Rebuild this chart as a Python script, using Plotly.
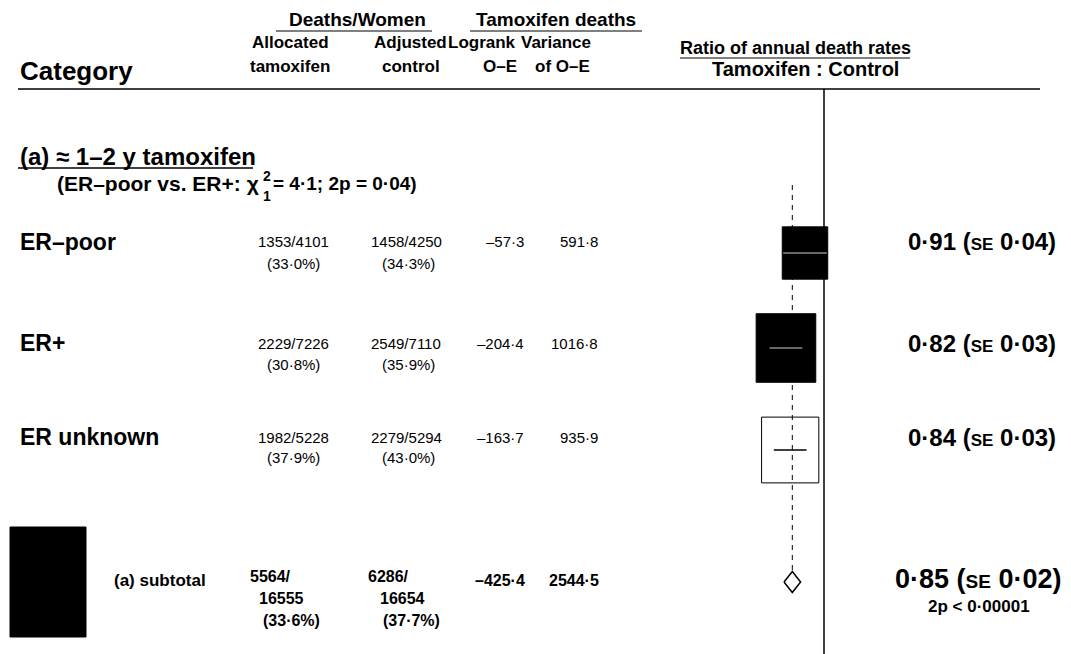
import math
import plotly.graph_objects as go

# ---------------- data ----------------
categories = ["ER–poor", "ER+", "ER unknown"]
tam_deaths = [1353, 2229, 1982]
tam_women = [4101, 7226, 5228]
tam_pct = ["33·0", "30·8", "37·9"]
ctl_deaths = [1458, 2549, 2279]
ctl_women = [4250, 7110, 5294]
ctl_pct = ["34·3", "35·9", "43·0"]
o_minus_e = [-57.3, -204.4, -163.7]
variance = [591.8, 1016.8, 935.9]
ratio = [0.91, 0.82, 0.84]
se = [0.04, 0.03, 0.03]
open_box = [False, False, True]

sub_label = "(a) subtotal"
sub_tam = [5564, 16555, "33·6"]
sub_ctl = [6286, 16654, "37·7"]
sub_o_minus_e = -425.4
sub_variance = 2544.5
sub_ratio = 0.85
sub_se = 0.02
sub_p = "2p < 0·00001"

section_title = "(a) ≈ 1–2 y tamoxifen"
het_left = "(ER–poor vs. ER+: χ"
het_sup, het_sub = "2", "1"
het_right = "= 4·1; 2p = 0·04)"

# ---------------- layout constants ----------------
W, H = 1071, 654
FONT = "Liberation Sans, Arial, Helvetica, sans-serif"
X_ONE = 824.0          # pixel position of ratio 1.0
PPU = 211.3            # pixels per ratio unit
ROW_CENTER = [253, 348, 450]   # box centres
ROW_TEXT = [242, 343, 437]     # first text line of each row
SUB_CENTER = 582
BOX_KX, BOX_KY = 0.935, 1.075   # half-size per sqrt(variance)


def fmt(v):
    s = f"{abs(v):.1f}".replace(".", "·")
    return ("–" + s) if v < 0 else s


def fr(v):
    return f"{v:.2f}".replace(".", "·")


def px(x):
    return x / W


def py(y):
    return 1 - y / H


fig = go.Figure()
ann = []
shapes = []


def text(x, y, s, size, bold=False, xanchor="left", yanchor="middle", family=FONT):
    ann.append(dict(x=px(x), y=py(y), xref="paper", yref="paper", text=(f"<b>{s}</b>" if bold else s),
                    showarrow=False, xanchor=xanchor, yanchor=yanchor,
                    font=dict(family=family, size=size, color="black")))


def hline(x0, x1, y, w=1.2):
    shapes.append(dict(type="line", xref="paper", yref="paper", x0=px(x0), x1=px(x1), y0=py(y), y1=py(y),
                       line=dict(color="black", width=w)))


# header
text(18, 71, "Category", 26, True)
text(357, 20, "Deaths/Women", 19, True, "center")
hline(276, 432, 31)
text(556, 20, "Tamoxifen deaths", 19, True, "center")
hline(470, 642, 31)
text(290, 42, "Allocated", 17, True, "center")
text(290, 66, "tamoxifen", 17, True, "center")
text(410, 42, "Adjusted", 17, True, "center")
text(411, 66, "control", 17, True, "center")
text(482, 42, "Logrank", 17, True, "center")
text(500, 66, "O–E", 17, True, "center")
text(556, 42, "Variance", 17, True, "center")
text(562, 66, "of O–E", 17, True, "center")
text(795, 48, "Ratio of annual death rates", 18, True, "center")
hline(680, 910, 58)
text(805, 69, "Tamoxifen : Control", 20, True, "center")
hline(18, 1040, 89, 1.6)

# section
text(18, 156, section_title, 24, True)
hline(18, 253, 168, 1.4)
text(55, 183, het_left, 21, True)
text(261, 176, het_sup, 14, True)
text(261, 196, het_sub, 14, True)
text(271, 183, het_right, 19, True)

# rows
for i, cat in enumerate(categories):
    ytop = ROW_TEXT[i]
    ybot = ytop + 21
    text(18, ytop, cat, 23, True)
    text(293, ytop, f"{tam_deaths[i]}/{tam_women[i]}", 15, False, "center")
    text(293, ybot, f"({tam_pct[i]}%)", 15, False, "center")
    text(406, ytop, f"{ctl_deaths[i]}/{ctl_women[i]}", 15, False, "center")
    text(408, ybot, f"({ctl_pct[i]}%)", 15, False, "center")
    text(526, ytop, fmt(o_minus_e[i]), 15, False, "right")
    text(600, ytop, fmt(variance[i]), 15, False, "right")
    text(1058, ytop, f"{fr(ratio[i])} (<span style='font-size:17px'>SE</span> {fr(se[i])})", 24, True, "right")

# subtotal text
text(112, 580, sub_label, 17, True)
text(248, 576, f"{sub_tam[0]}/", 16, True)
text(257, 598, f"{sub_tam[1]}", 16, True)
text(291, 620, f"({sub_tam[2]}%)", 16, True, "center")
text(366, 576, f"{sub_ctl[0]}/", 16, True)
text(378, 598, f"{sub_ctl[1]}", 16, True)
text(411, 620, f"({sub_ctl[2]}%)", 16, True, "center")
text(527, 580, fmt(sub_o_minus_e), 16, True, "right")
text(601, 580, fmt(sub_variance), 16, True, "right")
text(1063, 579, f"{fr(sub_ratio)} (<span style='font-size:19px'>SE</span> {fr(sub_se)})", 27, True, "right")
text(979, 606, sub_p, 17, True, "center")

# big black block at lower left
shapes.append(dict(type="rect", xref="paper", yref="paper", x0=px(10), x1=px(86), y0=py(637), y1=py(527),
                   fillcolor="black", line=dict(color="black", width=1)))

# forest marks in data coordinates
shapes.append(dict(type="line", xref="x", yref="y", x0=1.0, x1=1.0, y0=89, y1=H,
                   line=dict(color="black", width=1.5)))
d_half = 10.5
shapes.append(dict(type="line", xref="x", yref="y", x0=sub_ratio, x1=sub_ratio, y0=185, y1=SUB_CENTER - d_half,
                   line=dict(color="black", width=1, dash="5px,5px")))

for i in range(len(categories)):
    c = ROW_CENTER[i]
    s = math.sqrt(variance[i])
    hw = BOX_KX * s / PPU
    hh = BOX_KY * s
    lo, hi = ratio[i] - 2.58 * se[i], ratio[i] + 2.58 * se[i]
    if open_box[i]:
        shapes.append(dict(type="rect", xref="x", yref="y", x0=ratio[i] - hw, x1=ratio[i] + hw,
                           y0=c - hh, y1=c + hh, fillcolor="rgba(0,0,0,0)", line=dict(color="black", width=1)))
        shapes.append(dict(type="line", xref="x", yref="y", x0=lo, x1=hi, y0=c, y1=c,
                           line=dict(color="black", width=1.5)))
    else:
        shapes.append(dict(type="rect", xref="x", yref="y", x0=ratio[i] - hw, x1=ratio[i] + hw,
                           y0=c - hh, y1=c + hh, fillcolor="black", line=dict(color="black", width=1)))
        shapes.append(dict(type="line", xref="x", yref="y", x0=lo, x1=hi, y0=c, y1=c,
                           line=dict(color="#d0d0d0", width=1)))

lo, hi = sub_ratio - 1.96 * sub_se, sub_ratio + 1.96 * sub_se
fig.add_trace(go.Scatter(x=[lo, sub_ratio, hi, sub_ratio, lo],
                         y=[SUB_CENTER, SUB_CENTER - d_half, SUB_CENTER, SUB_CENTER + d_half, SUB_CENTER],
                         mode="lines", line=dict(color="black", width=1.5), hoverinfo="skip", showlegend=False))

fig.update_layout(
    width=W, height=H, autosize=False,
    margin=dict(l=0, r=0, t=0, b=0),
    paper_bgcolor="white", plot_bgcolor="white",
    xaxis=dict(range=[1 - X_ONE / PPU, 1 + (W - X_ONE) / PPU], visible=False, fixedrange=True),
    yaxis=dict(range=[H, 0], visible=False, fixedrange=True),
    shapes=shapes, annotations=ann, showlegend=False,
)
fig.write_html("out.html", config={"displayModeBar": False},
               post_script="document.body.style.margin='0';document.body.style.overflow='hidden';")
